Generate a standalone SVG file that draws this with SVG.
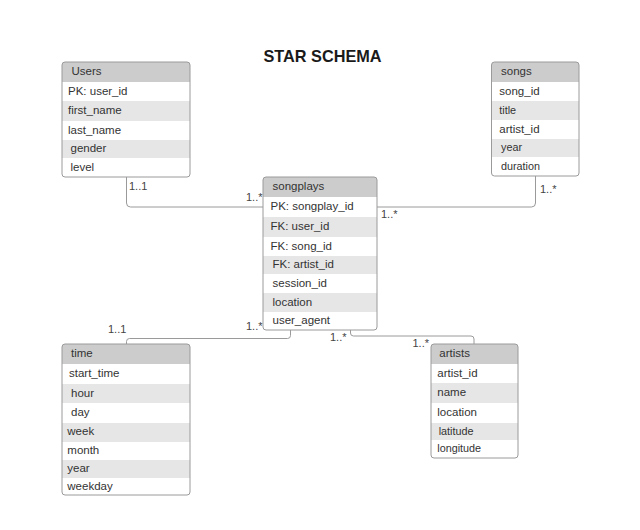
<svg xmlns="http://www.w3.org/2000/svg" width="640" height="530" viewBox="0 0 640 530">
<style>
text{font-family:"Liberation Sans",Arial,sans-serif;fill:#333;font-size:11.5px}
.title{font-size:16.3px;font-weight:bold;fill:#1a1a1a}
.sm{font-size:10.8px}
.hd{fill:#cccccc}
.alt{fill:#e6e6e6}
.box{fill:none;stroke:#9a9a9a;stroke-width:1}
.bg{fill:#ffffff}
.conn{fill:none;stroke:#9a9a9a;stroke-width:1}
.lbl{font-size:11px;fill:#444}
</style>
<defs>
<clipPath id="cu"><rect x="62" y="62" width="128" height="115" rx="3"/></clipPath>
<clipPath id="cp"><rect x="263" y="177" width="114" height="153" rx="3"/></clipPath>
<clipPath id="cs"><rect x="491.5" y="62" width="87.5" height="114" rx="3"/></clipPath>
<clipPath id="ct"><rect x="62" y="344" width="128" height="151" rx="3"/></clipPath>
<clipPath id="ca"><rect x="431" y="344" width="87" height="114" rx="3"/></clipPath>
</defs>
<rect width="640" height="530" fill="#ffffff"/>
<text class="title" x="322.5" y="61.5" text-anchor="middle">STAR SCHEMA</text>

<g id="connectors">
<path class="conn" d="M126.5,177 V203 Q126.5,207 130.5,207 H263"/>
<path class="conn" d="M535.5,176 V203 Q535.5,207 531.5,207 H377"/>
<path class="conn" d="M126.5,344 V341.5 Q126.5,338.5 129.5,338.5 H287.5 Q290.5,338.5 290.5,335.5 V330"/>
<path class="conn" d="M350.5,330 V333 Q350.5,336 353.5,336 H471 Q474,336 474,339 V344"/>
<text class="lbl" x="129" y="190">1..1</text>
<text class="lbl" x="246" y="200.5">1..*</text>
<text class="lbl" x="540" y="193">1..*</text>
<text class="lbl" x="381" y="218">1..*</text>
<text class="lbl" x="108" y="332.5">1..1</text>
<text class="lbl" x="246" y="330">1..*</text>
<text class="lbl" x="330" y="340.5">1..*</text>
<text class="lbl" x="412.5" y="347">1..*</text>
</g>

<g id="users">
<g clip-path="url(#cu)">
<rect class="bg" x="62" y="62" width="128" height="115"/>
<rect class="hd" x="62" y="62" width="128" height="20"/>
<rect class="alt" x="62" y="101" width="128" height="20"/>
<rect class="alt" x="62" y="140" width="128" height="18"/>
</g>
<rect class="box" x="62" y="62" width="128" height="115" rx="3"/>
<text x="71.5" y="75">Users</text>
<text x="68" y="94.5">PK: user_id</text>
<text x="68" y="114">first_name</text>
<text x="68" y="133.5">last_name</text>
<text x="70.5" y="152">gender</text>
<text x="70.5" y="170.5">level</text>
</g>

<g id="songplays">
<g clip-path="url(#cp)">
<rect class="bg" x="263" y="177" width="114" height="153"/>
<rect class="hd" x="263" y="177" width="114" height="20"/>
<rect class="alt" x="263" y="217" width="114" height="20"/>
<rect class="alt" x="263" y="256" width="114" height="18"/>
<rect class="alt" x="263" y="293" width="114" height="19"/>
</g>
<rect class="box" x="263" y="177" width="114" height="153" rx="3"/>
<text x="272.5" y="190">songplays</text>
<text x="270.5" y="210">PK: songplay_id</text>
<text x="270.5" y="230">FK: user_id</text>
<text x="270.5" y="249.5">FK: song_id</text>
<text x="272.5" y="268">FK: artist_id</text>
<text x="272.5" y="286.5">session_id</text>
<text x="272.5" y="305.5">location</text>
<text x="272.5" y="324">user_agent</text>
</g>

<g id="songs">
<g clip-path="url(#cs)">
<rect class="bg" x="491.5" y="62" width="87.5" height="114"/>
<rect class="hd" x="491.5" y="62" width="87.5" height="20"/>
<rect class="alt" x="491.5" y="101" width="87.5" height="19"/>
<rect class="alt" x="491.5" y="139" width="87.5" height="18"/>
</g>
<rect class="box" x="491.5" y="62" width="87.5" height="114" rx="3"/>
<text x="501" y="75">songs</text>
<text x="499.3" y="94.5">song_id</text>
<text x="499.3" y="113.5" class="sm">title</text>
<text x="499.3" y="132.5">artist_id</text>
<text x="501" y="151" class="sm">year</text>
<text x="501" y="169.5" class="sm">duration</text>
</g>

<g id="time">
<g clip-path="url(#ct)">
<rect class="bg" x="62" y="344" width="128" height="151"/>
<rect class="hd" x="62" y="344" width="128" height="20"/>
<rect class="alt" x="62" y="384" width="128" height="19"/>
<rect class="alt" x="62" y="423" width="128" height="19"/>
<rect class="alt" x="62" y="460" width="128" height="18"/>
</g>
<rect class="box" x="62" y="344" width="128" height="151" rx="3"/>
<text x="71" y="357">time</text>
<text x="69" y="377">start_time</text>
<text x="71" y="396.5">hour</text>
<text x="71" y="416">day</text>
<text x="67.3" y="435">week</text>
<text x="67.3" y="454">month</text>
<text x="67.3" y="472">year</text>
<text x="67.3" y="489.5">weekday</text>
</g>

<g id="artists">
<g clip-path="url(#ca)">
<rect class="bg" x="431" y="344" width="87" height="114"/>
<rect class="hd" x="431" y="344" width="87" height="20"/>
<rect class="alt" x="431" y="383" width="87" height="20"/>
<rect class="alt" x="431" y="423" width="87" height="17"/>
</g>
<rect class="box" x="431" y="344" width="87" height="114" rx="3"/>
<text x="439.3" y="357">artists</text>
<text x="437.3" y="376.5">artist_id</text>
<text x="437.3" y="396">name</text>
<text x="437.3" y="416">location</text>
<text x="438.7" y="434.5" class="sm">latitude</text>
<text x="437.3" y="452" class="sm">longitude</text>
</g>
</svg>
